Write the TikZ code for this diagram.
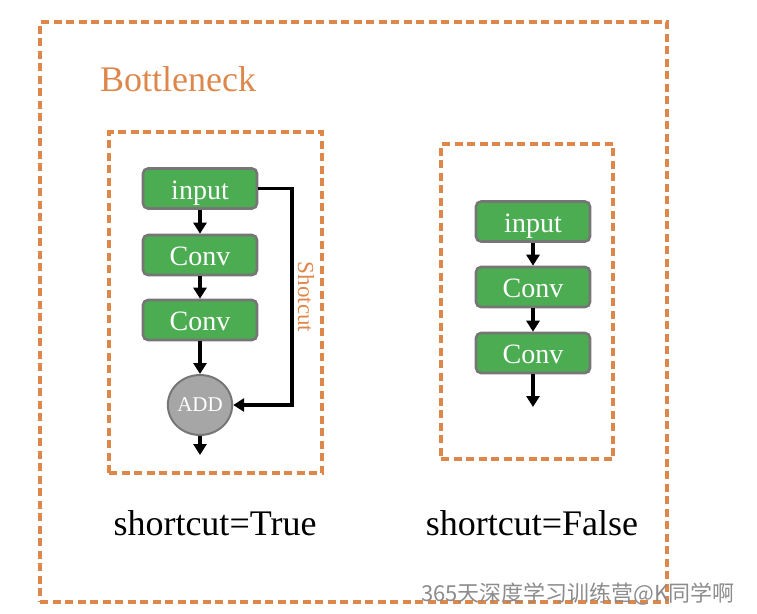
\documentclass[tikz,border=0pt]{standalone}
\usepackage{fontspec}
\setmainfont{Liberation Serif}
\newfontfamily\cjkfont{Noto Sans CJK SC}
\usetikzlibrary{arrows.meta,shapes.geometric}
\definecolor{orng}{RGB}{222,135,75}
\definecolor{grn}{RGB}{76,172,82}
\definecolor{bord}{RGB}{118,118,118}
\definecolor{addfill}{RGB}{166,166,166}
\tikzset{
  dashbox/.style={draw=orng, line width=3.2pt, dash pattern=on 8pt off 4.5pt, inner sep=0pt},
  blk/.style={draw=bord, fill=grn, line width=2.6pt, rounded corners=5pt, minimum width=114pt, minimum height=40pt, inner sep=0pt, text height=21pt, text depth=0pt, text=white, font=\fontsize{28}{30}\selectfont},
  addnode/.style={ellipse, draw=bord, fill=addfill, line width=2pt, minimum width=64pt, minimum height=60pt, inner sep=0pt, text=white, font=\fontsize{21}{24}\selectfont},
  arr/.style={line width=3.6pt, -{Triangle[length=11pt,width=13pt]}},
  lbl/.style={font=\fontsize{36}{40}\selectfont, inner sep=0pt}
}
\begin{document}
\begin{tikzpicture}[x=1pt,y=-1pt]
\useasboundingbox (0,0) rectangle (757,613);
% boxes
\node[dashbox, minimum width=627pt, minimum height=580pt] (outer) at (353.5,312) {};
\node[dashbox, minimum width=213pt, minimum height=341pt] (lbox) at (215.5,302.5) {};
\node[dashbox, minimum width=172pt, minimum height=315pt] (rbox) at (527,301.5) {};
\node[lbl, text=orng, anchor=base west] (title) at (100,91) {Bottleneck};
% left column
\node[blk] (lin) at (200,188.5) {input};
\node[blk] (lc1) at (200,255) {Conv};
\node[blk] (lc2) at (200,320) {Conv};
\node[addnode] (add) at (200,405) {ADD};
\coordinate (lout) at (200,455);
\coordinate (sc) at (292,188.5);
\draw[arr] (lin) -- (lc1);
\draw[arr] (lc1) -- (lc2);
\draw[arr] (lc2) -- (add);
\draw[arr] (add) -- (lout);
\draw[arr] (lin.east) -- (sc) |- (add.east);
\node[text=orng, rotate=-90, font=\fontsize{23}{25}\selectfont, inner sep=0pt] (sclbl) at (306,297) {Shotcut};
% right column
\node[blk] (rin) at (533,221.5) {input};
\node[blk] (rc1) at (533,287) {Conv};
\node[blk] (rc2) at (533,353) {Conv};
\coordinate (rout) at (533,407);
\draw[arr] (rin) -- (rc1);
\draw[arr] (rc1) -- (rc2);
\draw[arr] (rc2) -- (rout);
% labels
\node[lbl, anchor=base] (ltrue) at (215,535) {shortcut=True};
\node[lbl, anchor=base] (lfalse) at (532,535) {shortcut=False};
% watermark
\node[anchor=base west, inner sep=0pt, text=black!45, font=\cjkfont\fontsize{22}{24}\selectfont] (wm) at (421,601) {365天深度学习训练营@K同学啊};
\end{tikzpicture}
\end{document}
